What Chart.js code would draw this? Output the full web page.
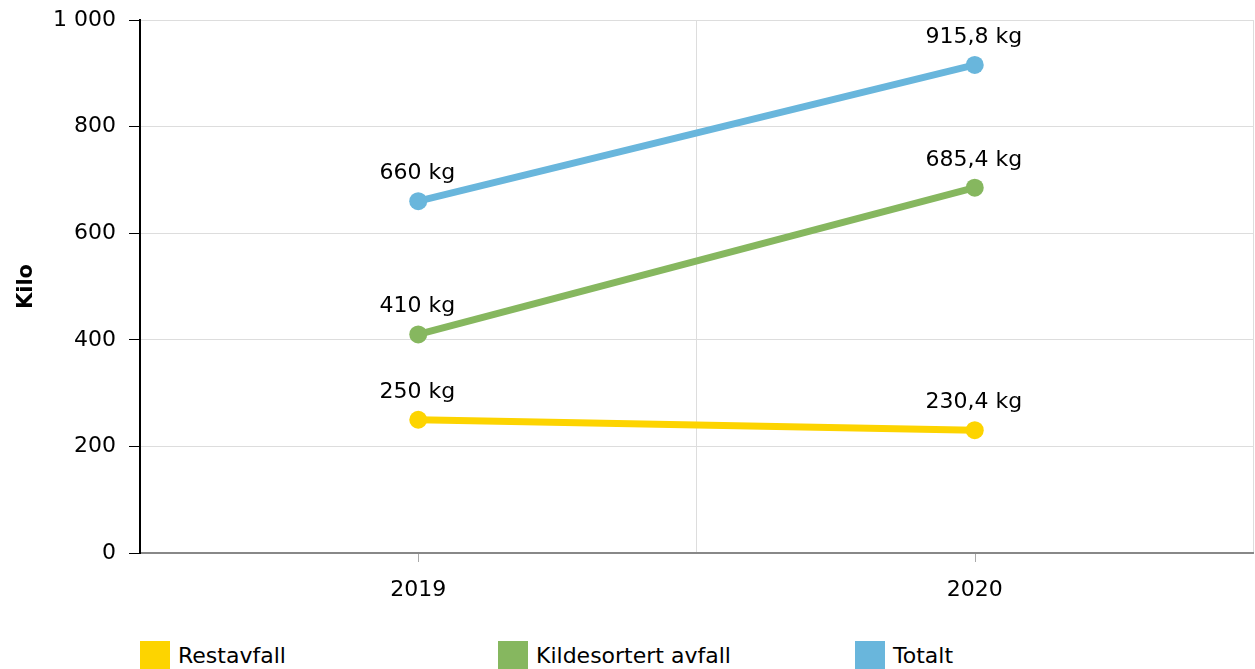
<!DOCTYPE html>
<html>
<head>
<meta charset="utf-8">
<script src="https://cdn.jsdelivr.net/npm/chart.js"></script>
<style>
  html, body { margin: 0; padding: 0; background: #fff; overflow: hidden; }
  #wrap { position: relative; width: 1255px; height: 669px; font-family: "DejaVu Sans", Verdana, sans-serif; }
  #chart { position: absolute; left: 0; top: 0; }
  .leg { position: absolute; top: 641px; font-size: 22px; color: #000; white-space: nowrap; }
  .leg span.box { position: absolute; left: 0; top: 0; width: 30px; height: 28px; }
  .leg span.txt { position: absolute; left: 38px; top: 2px; }
</style>
</head>
<body>
<div id="wrap">
  <canvas id="chart" width="1255" height="625"></canvas>
  <div id="legend"></div>
</div>
<script>
// data
var aar = ['2019', '2020'];
var restavfall = [250, 230.4];
var kildesortert = [410, 685.4];
var totalt = [660, 915.8];
var yTicks = [0, 200, 400, 600, 800, 1000];

var serier = [
    { navn: 'Restavfall', data: restavfall, farge: '#FDD400' },
    { navn: 'Kildesortert avfall', data: kildesortert, farge: '#86B75F' },
    { navn: 'Totalt', data: totalt, farge: '#69B6DC' }
];

var fontFam = '"DejaVu Sans", Verdana, sans-serif';

function tusen(v) {
    return String(v).replace(/\B(?=(\d{3})+(?!\d))/g, ' ');
}

// etiketter over punktene
var etikettPlugin = {
    id: 'etiketter',
    afterDatasetsDraw: function(chart) {
        var ctx = chart.ctx;
        ctx.save();
        ctx.font = '22px ' + fontFam;
        ctx.fillStyle = '#000';
        ctx.textAlign = 'center';
        ctx.textBaseline = 'alphabetic';
        chart.data.datasets.forEach(function(ds, i) {
            var meta = chart.getDatasetMeta(i);
            meta.data.forEach(function(pt, j) {
                var txt = String(ds.data[j]).replace('.', ',') + ' kg';
                ctx.fillText(txt, pt.x - 1, pt.y - 22);
            });
        });
        ctx.restore();
    }
};

// små streker under x-aksen ved hver kategori
var xTickPlugin = {
    id: 'xticks',
    afterDraw: function(chart) {
        var ctx = chart.ctx;
        var x = chart.scales.x;
        var bunn = chart.chartArea.bottom;
        ctx.save();
        ctx.strokeStyle = '#aaa';
        ctx.lineWidth = 1;
        aar.forEach(function(a, i) {
            var px = Math.round(x.getPixelForValue(i)) + 0.5;
            ctx.beginPath();
            ctx.moveTo(px, bunn + 1);
            ctx.lineTo(px, bunn + 9);
            ctx.stroke();
        });
        ctx.restore();
    }
};

var ctx = document.getElementById('chart').getContext('2d');
var chart = new Chart(ctx, {
    type: 'line',
    data: {
        labels: aar,
        datasets: serier.map(function(s) {
            return {
                label: s.navn,
                data: s.data,
                borderColor: s.farge,
                backgroundColor: s.farge,
                borderWidth: 7,
                pointRadius: 9,
                pointHoverRadius: 9,
                pointBorderWidth: 0,
                fill: false,
                tension: 0
            };
        })
    },
    plugins: [etikettPlugin, xTickPlugin],
    options: {
        responsive: false,
        animation: false,
        layout: { autoPadding: false, padding: { top: 20, right: 2, left: 0, bottom: 0 } },
        plugins: {
            legend: { display: false },
            tooltip: { enabled: false }
        },
        scales: {
            x: {
                offset: true,
                grid: { offset: true, color: '#dddddd', drawTicks: false },
                border: { color: '#888888', width: 2 },
                ticks: { color: '#000', font: { family: fontFam, size: 22 }, padding: 24, maxRotation: 0 },
                afterFit: function(s) {
                    s.height = 625 - 553;
                    s.paddingLeft = 0;
                    s.paddingRight = 0;
                }
            },
            y: {
                min: 0,
                max: 1000,
                afterBuildTicks: function(s) { s.ticks = yTicks.map(function(v) { return { value: v }; }); },
                grid: { color: '#dddddd', tickColor: '#000', tickLength: 11 },
                border: { color: '#000', width: 2 },
                ticks: {
                    color: '#000',
                    padding: 13,
                    font: { family: fontFam, size: 22 },
                    callback: function(v) { return tusen(v); }
                },
                title: {
                    display: true,
                    text: 'Kilo',
                    color: '#000',
                    font: { family: fontFam, size: 21, weight: 'bold' },
                    padding: { top: 14, bottom: 0 }
                },
                afterFit: function(s) {
                    s.width = 140;
                    s.paddingTop = 0;
                    s.paddingBottom = 0;
                }
            }
        }
    }
});

// legende
var leg = document.getElementById('legend');
var legX = [140, 498, 855];
serier.forEach(function(s, i) {
    var d = document.createElement('div');
    d.className = 'leg';
    d.style.left = legX[i] + 'px';
    d.innerHTML = '<span class="box" style="background:' + s.farge + '"></span><span class="txt">' + s.navn + '</span>';
    leg.appendChild(d);
});
</script>
</body>
</html>
